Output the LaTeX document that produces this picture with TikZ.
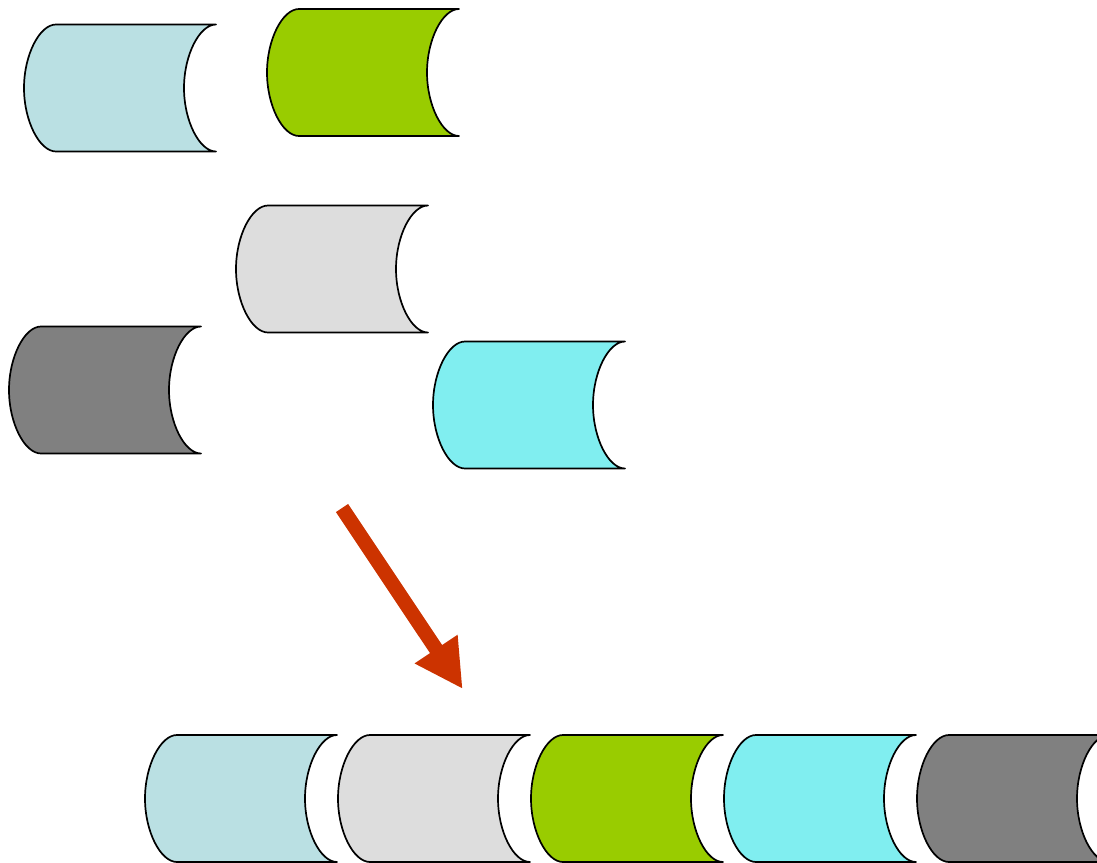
\documentclass[tikz,border=0pt]{standalone}
\usetikzlibrary{arrows.meta}
\definecolor{lblue}{RGB}{186,224,227}
\definecolor{lgreen}{RGB}{153,204,0}
\definecolor{lgray}{RGB}{221,221,221}
\definecolor{dgray}{RGB}{128,128,128}
\definecolor{lcyan}{RGB}{128,238,240}
\definecolor{arrowred}{RGB}{204,51,0}
\tikzset{
  storeline/.style={draw=black, line width=1.7pt, line join=round},
  bigarrow/.style={draw=arrowred, line width=14.6pt, -{Triangle[length=48pt,width=48pt]}}
}
% stored-data shape: #1 left x, #2 top y, #3 fill colour
\newcommand\storedshape[3]{%
  \pgfmathsetmacro\L{#1}\pgfmathsetmacro\T{#2}%
  \pgfmathsetmacro\R{\L+192}\pgfmathsetmacro\B{\T+127}\pgfmathsetmacro\M{\T+63.5}%
  \pgfmathsetmacro\La{\L+32}\pgfmathsetmacro\Ra{\R-32}%
  \pgfmathsetmacro\Lk{\L+32-16.5}\pgfmathsetmacro\Rk{\R-16.5}%
  \pgfmathsetmacro\Mu{\M-33}\pgfmathsetmacro\Md{\M+33}%
  \path[storeline, fill=#3]
    (\La,\T) -- (\R,\T)
    .. controls (\Rk,\T) and (\Ra,\Mu) .. (\Ra,\M)
    .. controls (\Ra,\Md) and (\Rk,\B) .. (\R,\B)
    -- (\La,\B)
    .. controls (\Lk,\B) and (\L,\Md) .. (\L,\M)
    .. controls (\L,\Mu) and (\Lk,\T) .. cycle;
}
\begin{document}
\begin{tikzpicture}[x=1pt,y=-1pt]
\useasboundingbox (0,0) rectangle (1097,862);
\clip (0,0) rectangle (1097,862);
\storedshape{24}{24.5}{lblue}
\storedshape{267}{9}{lgreen}
\storedshape{236}{205.5}{lgray}
\storedshape{9}{326.5}{dgray}
\storedshape{433}{341.5}{lcyan}
\storedshape{145}{735}{lblue}
\storedshape{338}{735}{lgray}
\storedshape{531}{735}{lgreen}
\storedshape{724}{735}{lcyan}
\storedshape{917}{735}{dgray}
\coordinate (arrowstart) at (342,508);
\coordinate (arrowtip) at (462.7,689);
\draw[bigarrow] (arrowstart) -- (arrowtip);
\end{tikzpicture}
\end{document}
